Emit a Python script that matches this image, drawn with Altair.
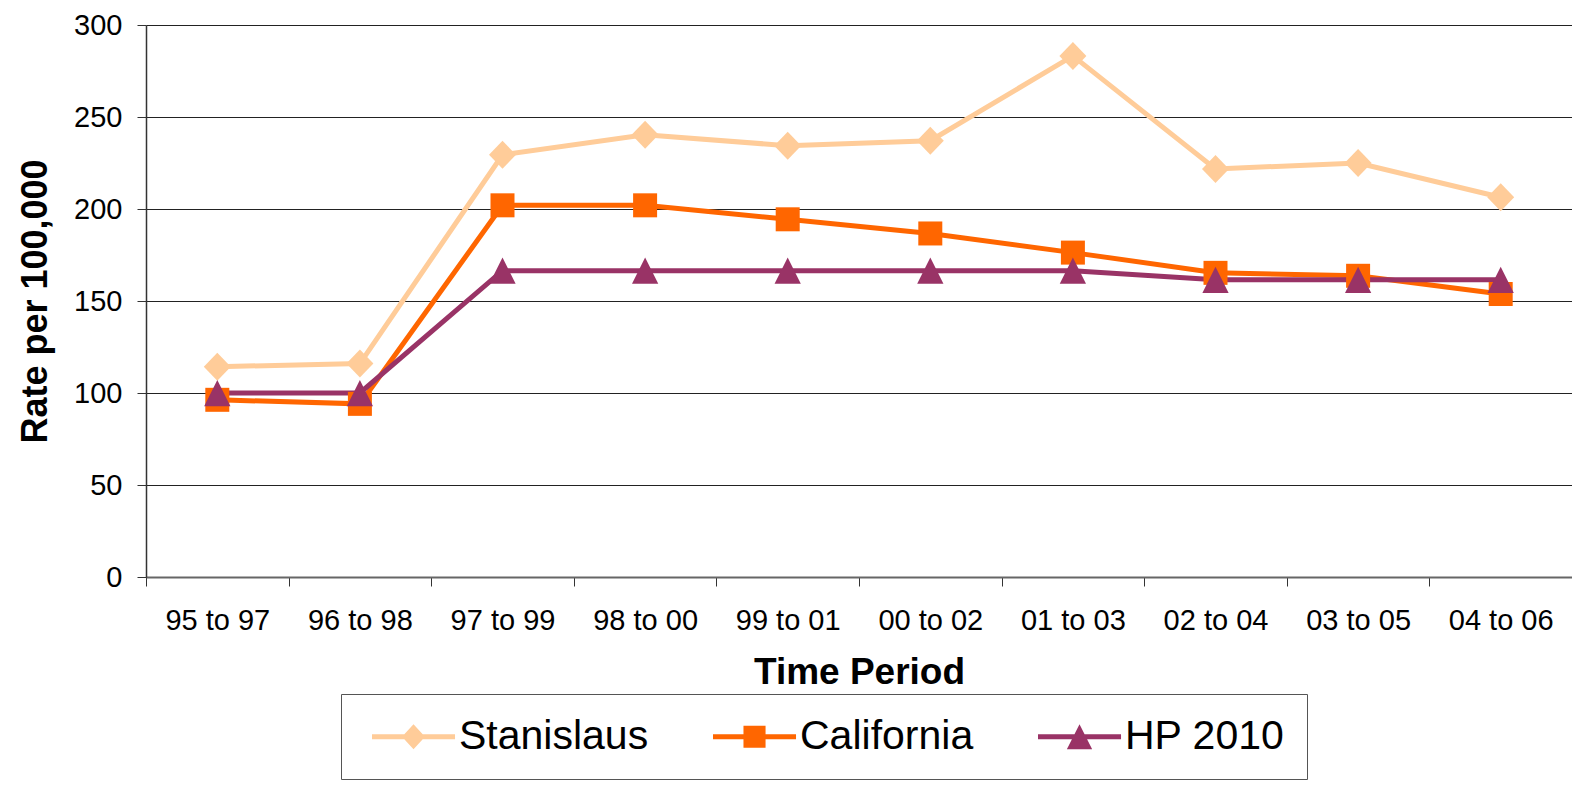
import altair as alt
import pandas as pd

periods = ["95 to 97", "96 to 98", "97 to 99", "98 to 00", "99 to 01",
           "00 to 02", "01 to 03", "02 to 04", "03 to 05", "04 to 06"]
series_names = ["Stanislaus", "California", "HP 2010"]
stanislaus = [114.3, 116.0, 229.5, 240.4, 234.4, 237.1, 283.2, 221.8, 225.0, 206.4]
california = [96.3, 94.1, 202.0, 202.0, 194.4, 186.7, 176.3, 165.3, 163.7, 153.8]
hp2010 = [100.0, 100.0, 166.5, 166.5, 166.5, 166.5, 166.5, 161.5, 161.5, 161.5]
colors = ["#FFCC99", "#FF6600", "#993366"]
y_ticks = [0, 50, 100, 150, 200, 250, 300]

# marker outlines (unit = sqrt(size)/2 = 12.5 px)
marker_shapes = [
    "M0,-1.12 L1.08,0 L0,1.12 L-1.08,0 Z",
    "M-0.96,-0.96 L0.96,-0.96 L0.96,0.96 L-0.96,0.96 Z",
    "M0,-1.05 L1.05,1.05 L-1.05,1.05 Z",
]

# legend symbols: line segment with marker (unit = sqrt(size)/2)
legend_shapes = [
    "M-1,-0.22 L6.22,-0.22 L6.22,0.22 L-1,0.22 Z M2.61,-1.09 L3.61,0 L2.61,1.09 L1.61,0 Z",
    "M-1,-0.22 L6.22,-0.22 L6.22,0.22 L-1,0.22 Z M1.65,-0.96 L3.57,-0.96 L3.57,0.96 L1.65,0.96 Z",
    "M-1,-0.22 L6.22,-0.22 L6.22,0.22 L-1,0.22 Z M2.61,-1.09 L3.71,1.09 L1.51,1.09 Z",
]

rows = []
for name, vals in zip(series_names, [stanislaus, california, hp2010]):
    for p, v in zip(periods, vals):
        rows.append({"period": p, "series": name, "value": v})
df = pd.DataFrame(rows)

FONT = "Liberation Sans"

x_enc = alt.X(
    "period:N", sort=periods,
    scale=alt.Scale(type="band", paddingInner=0, paddingOuter=0),
    axis=alt.Axis(
        title="Time Period", tickBand="extent", grid=False,
        domainColor="#666", domainWidth=2, tickColor="#333", tickSize=9,
        labelFontSize=29, labelPadding=20, labelColor="black", labelAngle=0,
        labelFont=FONT, titleFont=FONT, titleFontSize=37, titleFontWeight="bold",
        titleColor="black", titlePadding=19,
    ),
)
y_enc = alt.Y(
    "value:Q",
    scale=alt.Scale(domain=[0, 300], nice=False),
    axis=alt.Axis(
        title="Rate per 100,000", values=y_ticks, grid=True, gridColor="#222",
        gridWidth=1, domainColor="#333", domainWidth=1.5, tickColor="#333",
        tickSize=9, labelFontSize=29, labelPadding=15, labelColor="black",
        labelFont=FONT, titleFont=FONT, titleFontSize=36, titleFontWeight="bold",
        titleColor="black", titlePadding=19,
    ),
)

color_scale = alt.Scale(domain=series_names, range=colors)

base = alt.Chart(df)

lines = base.mark_line(strokeWidth=5).encode(
    x=x_enc, y=y_enc,
    color=alt.Color("series:N", scale=color_scale, legend=None),
    detail="series:N",
)

points = base.mark_point(filled=True, opacity=1, strokeWidth=0, size=625).encode(
    x=x_enc, y=y_enc,
    color=alt.Color("series:N", scale=color_scale, legend=None),
    shape=alt.Shape("series:N", scale=alt.Scale(domain=series_names, range=marker_shapes), legend=None),
)

legend_layer = base.transform_filter("datum.value < 0").mark_point(filled=True, opacity=1).encode(
    x=x_enc, y=y_enc,
    color=alt.Color("series:N", scale=color_scale, title=None,
                    legend=alt.Legend(
                        orient="none", legendX=195, legendY=669, direction="horizontal",
                        columns=3, title=None, strokeColor="#555", fillColor="white",
                        padding=22, labelFontSize=41, labelFont=FONT, labelColor="black",
                        labelOffset=55, columnPadding=55, symbolSize=529,
                        symbolStrokeWidth=0, symbolOpacity=1, labelLimit=400,
                    )),
    shape=alt.Shape("series:N", scale=alt.Scale(domain=series_names, range=legend_shapes), title=None),
)

chart = alt.layer(lines, points, legend_layer).resolve_scale(
    color="independent", shape="independent"
).properties(
    width=1426, height=552,
    padding={"left": 138, "top": 17, "right": 0, "bottom": 203},
    autosize=alt.AutoSizeParams(type="none"),
    background="white",
).configure_view(stroke=None)

chart.save("out.html", embed_options={"renderer": "svg", "actions": False})
